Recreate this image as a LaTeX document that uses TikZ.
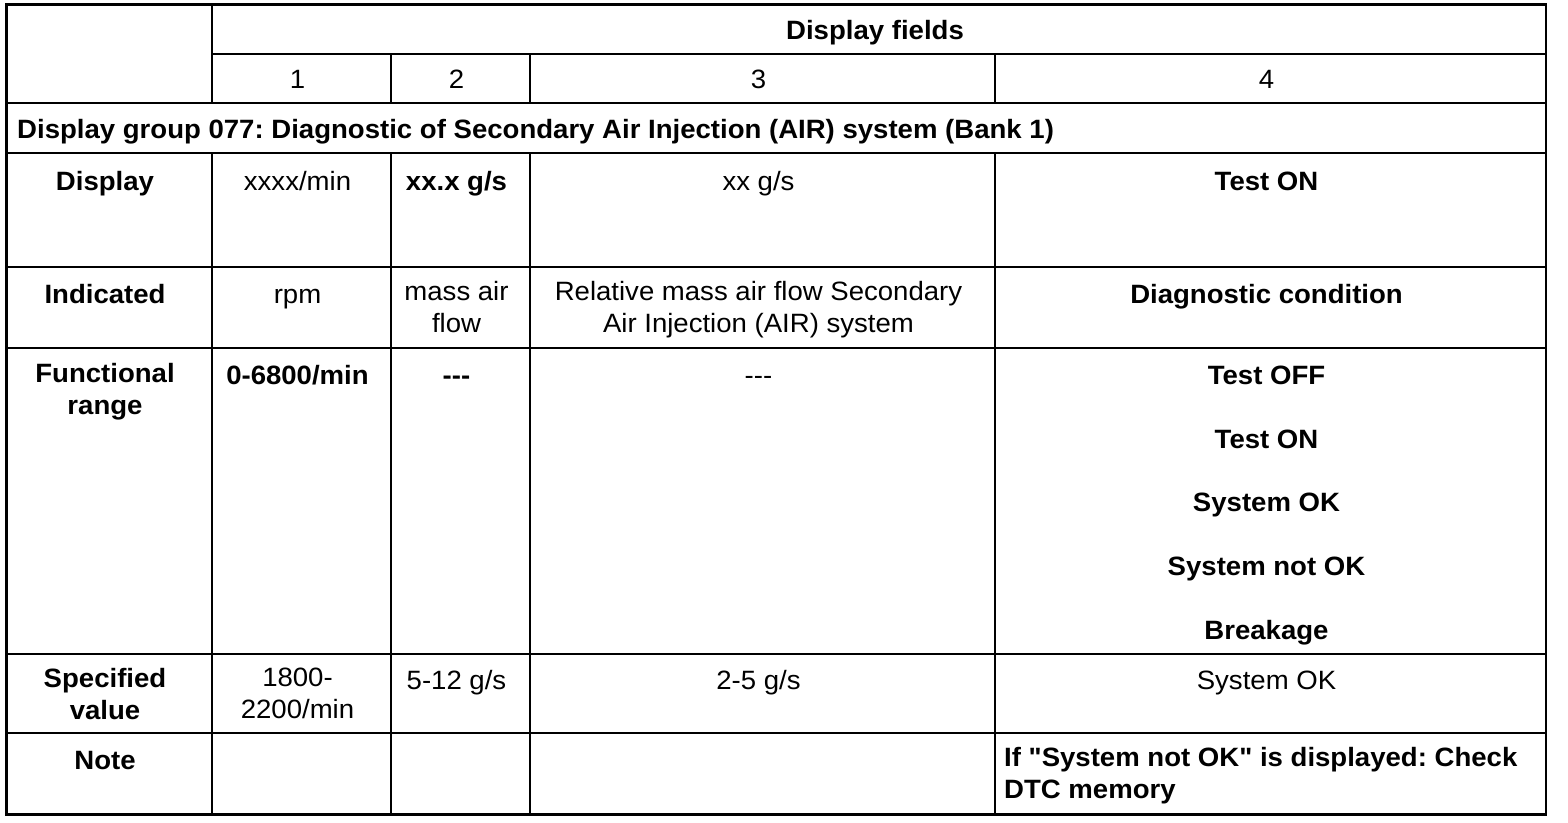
\documentclass[tikz,border=0pt]{standalone}
\usepackage{fontspec}
\setmainfont{Liberation Sans}[FakeStretch=1.04,Ligatures=TeXOff]
\frenchspacing

\begin{document}
\begin{tikzpicture}[x=1pt,y=-1pt,
	grid/.style={line width=2.8pt},
	cell/.style={anchor=north,inner sep=0pt,align=center,font=\fontsize{26.5}{32}\selectfont,execute at begin node=\strut},
	bcell/.style={cell,font=\fontsize{26.5}{32}\selectfont\bfseries}]

\useasboundingbox (0,0) rectangle (1568,822);

% frame and rules
\draw [grid] (6.5,4.5) rectangle (1546,814.5);
\draw [grid] (212,54) -- (1546,54);
\foreach \y in {103,153,267,348,654,733}
	\draw [grid] (6.5,\y) -- (1546,\y);
\draw [grid] (212,4.5) -- (212,103);
\foreach \x in {391,530,995}
	\draw [grid] (\x,54) -- (\x,103);
\foreach \x in {212,391,530,995}
	\draw [grid] (\x,153) -- (\x,814.5);

% header
\node [bcell] (fields) at (875,16.6) {Display fields};
\foreach \x/\n in {297.5/1,456.5/2,758.5/3,1266.5/4}
	\node [cell] (field\n) at (\x,65.6) {\n};
\node [bcell,anchor=north west] (group) at (17,115.6) {Display group 077: Diagnostic of Secondary Air Injection (AIR) system (Bank 1)};

% display
\node [bcell] (dispname) at (105,167.6) {Display};
\node [cell] (disp1) at (297.5,167.6) {xxxx/min};
\node [bcell] (disp2) at (456.5,167.6) {xx.x g/s};
\node [cell] (disp3) at (758.5,167.6) {xx g/s};
\node [bcell] (disp4) at (1266.5,167.6) {Test ON};

% indicated
\node [bcell] (indname) at (105,280.6) {Indicated};
\node [cell] (ind1) at (297.5,280.6) {rpm};
\node [cell] (ind2) at (456.5,280.6) {mass air\\flow};
\node [cell] (ind3) at (758.5,280.6) {Relative mass air flow Secondary\\Air Injection (AIR) system};
\node [bcell] (ind4) at (1266.5,280.6) {Diagnostic condition};

% functional range
\node [bcell] (rangename) at (105,362.6) {Functional\\range};
\node [bcell] (range1) at (297.5,361.6) {0-6800/min};
\node [bcell] (range2) at (456.5,361.6) {---};
\node [cell] (range3) at (758.5,361.6) {---};
\foreach \txt [count=\i from 0] in {Test OFF,Test ON,System OK,System not OK,Breakage}
	\node [bcell] (range4-\i) at (1266.5,361.6+63.8*\i) {\txt};

% specified value
\node [bcell] (specname) at (105,667.6) {Specified\\value};
\node [cell] (spec1) at (297.5,667.6) {1800-\\2200/min};
\node [cell] (spec2) at (456.5,666.6) {5-12 g/s};
\node [cell] (spec3) at (758.5,666.6) {2-5 g/s};
\node [cell] (spec4) at (1266.5,666.6) {System OK};

% note
\node [bcell] (notename) at (105,746.6) {Note};
\node [bcell,anchor=north west,align=left] (note4) at (1004,746.6) {If "System not OK" is displayed: Check\\DTC memory};

\end{tikzpicture}
\end{document}
